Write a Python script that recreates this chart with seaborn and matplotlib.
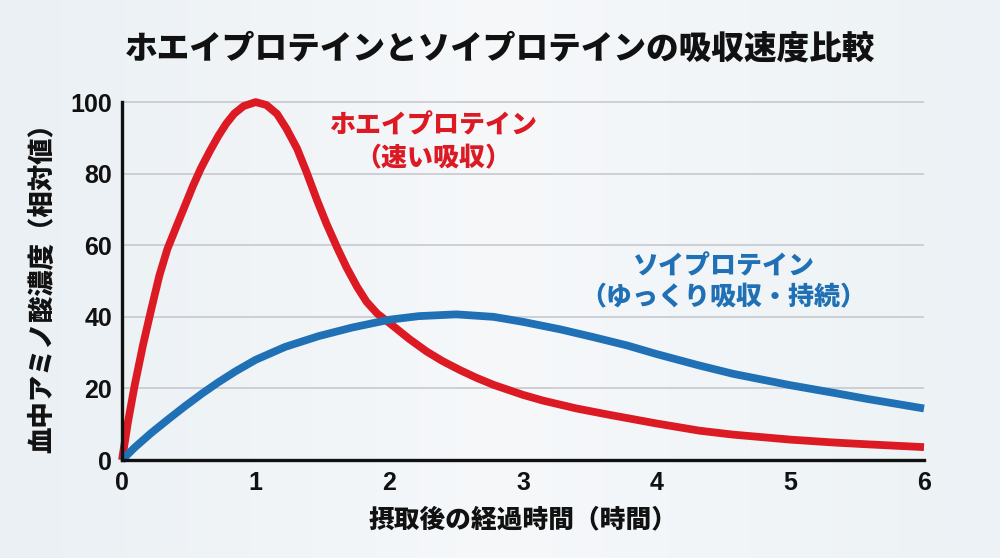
import numpy as np
import pandas as pd
import matplotlib
matplotlib.use("Agg")
import matplotlib.pyplot as plt
from matplotlib.colors import LinearSegmentedColormap
import seaborn as sns

# ---- data ----
whey_t = [0, 0.045, 0.095, 0.157, 0.22, 0.28, 0.34, 0.41, 0.47, 0.53, 0.59, 0.66,
          0.72, 0.78, 0.84, 0.91, 1.0, 1.08, 1.16, 1.23, 1.31, 1.38, 1.46, 1.53,
          1.61, 1.68, 1.76, 1.83, 1.91, 2.0, 2.15, 2.28, 2.4, 2.53, 2.65, 2.78,
          3.0, 3.15, 3.4, 3.65, 4.0, 4.32, 4.57, 5.0, 5.32, 5.57, 6.0]
whey_v = [0, 10.7, 20.9, 32.1, 42.3, 51.6, 59.0, 65.5, 71.0, 76.5, 81.5, 86.5,
          90.5, 94.0, 96.8, 98.9, 100.0, 99.2, 96.7, 92.6, 87.0, 80.5, 72.5, 66.0,
          59.3, 53.8, 48.3, 44.2, 40.9, 38.3, 33.8, 30.3, 27.6, 25.1, 23.0, 21.0,
          18.2, 16.6, 14.4, 12.6, 10.2, 8.2, 7.1, 5.7, 4.9, 4.4, 3.6]
soy_t = [0, 0.095, 0.22, 0.35, 0.47, 0.6, 0.72, 0.85, 1.0, 1.22, 1.47, 1.72, 2.0,
         2.22, 2.5, 2.78, 3.0, 3.28, 3.53, 3.78, 4.0, 4.32, 4.57, 5.0, 5.32, 5.57, 6.0]
soy_v = [0, 3.5, 7.6, 11.5, 15.0, 18.6, 21.7, 24.8, 28.0, 31.6, 34.6, 37.0, 39.2,
         40.2, 40.7, 40.0, 38.6, 36.5, 34.3, 32.0, 29.6, 26.4, 24.1, 20.9, 18.8, 17.1, 14.4]
series_names = ["ホエイプロテイン", "ソイプロテイン"]
label_whey = ["ホエイプロテイン", "（速い吸収）"]
label_soy = ["ソイプロテイン", "（ゆっくり吸収・持続）"]
x_ticks = [0, 1, 2, 3, 4, 5, 6]
y_ticks = [0, 20, 40, 60, 80, 100]
title = "ホエイプロテインとソイプロテインの吸収速度比較"
xlabel = "摂取後の経過時間（時間）"
ylabel = "血中アミノ酸濃度（相対値）"

RED = "#dc1a24"
BLUE = "#1f70b5"
BG = "#eef3f6"
INK = "#111111"

df = pd.concat([
    pd.DataFrame({"t": whey_t, "v": whey_v, "s": series_names[0]}),
    pd.DataFrame({"t": soy_t, "v": soy_v, "s": series_names[1]}),
], ignore_index=True)

sns.set_theme(style="white")
plt.rcParams["font.family"] = ["Noto Sans CJK JP", "DejaVu Sans"]

fig = plt.figure(figsize=(10, 5.58), dpi=100, facecolor=BG)

# soft background
bg = fig.add_axes([0, 0, 1, 1], zorder=-10)
grad = np.linspace(0, 1, 256)
img = np.outer(np.ones(10), grad)
cm = LinearSegmentedColormap.from_list("bg", ["#eaf0f4", "#f6f8fa", "#ecf2f5"])
bg.imshow(img, cmap=cm, aspect="auto", extent=[0, 1, 0, 1])
bg.axis("off")

ax = fig.add_axes([0.122, 0.1756, 0.802, 0.6414])
ax.set_facecolor("none")

for y in y_ticks[1:]:
    ax.axhline(y, color="#c9cdd1", lw=1.3, zorder=0)

sns.lineplot(data=df, x="t", y="v", hue="s", hue_order=series_names,
             palette=[RED, BLUE], lw=5.6, legend=False, ax=ax, sort=True,
             estimator=None)
for ln in ax.lines:
    ln.set_clip_on(False)
    ln.set_solid_capstyle("butt")
    ln.set_solid_joinstyle("round")

ax.set_xlim(0, 6)
ax.set_ylim(0, 100)
ax.set_xticks(x_ticks)
ax.set_yticks(y_ticks)
tick_font = dict(family=["Liberation Sans", "DejaVu Sans"], weight="bold", size=18)
ax.set_xticklabels([str(v) for v in x_ticks], fontdict=tick_font, color=INK)
ax.set_yticklabels([str(v) for v in y_ticks], fontdict=tick_font, color=INK)
ax.tick_params(axis="x", direction="in", length=8, width=1.6, color=INK, pad=8)
ax.tick_params(axis="y", length=0, pad=7)

for s in ["top", "right"]:
    ax.spines[s].set_visible(False)
for s in ["left", "bottom"]:
    ax.spines[s].set_color(INK)
    ax.spines[s].set_linewidth(2.4)

ax.set_xlabel(xlabel, fontsize=18.5, fontweight="heavy", color=INK, labelpad=8)
ax.set_ylabel(ylabel, fontsize=19, fontweight="heavy", color=INK, labelpad=10)

fig.text(0.5, 0.912, title, ha="center", va="center", fontsize=23.5,
         fontweight="heavy", color=INK)

ax.text(2.33, 93.6, label_whey[0], ha="center", va="center", fontsize=18.7,
        fontweight="heavy", color=RED)
ax.text(2.33, 84.4, label_whey[1], ha="center", va="center", fontsize=18.7,
        fontweight="heavy", color=RED)
ax.text(4.5, 54.2, label_soy[0], ha="center", va="center", fontsize=18.7,
        fontweight="heavy", color=BLUE)
ax.text(4.5, 45.5, label_soy[1], ha="center", va="center", fontsize=18.7,
        fontweight="heavy", color=BLUE)

fig.savefig("out.png", dpi=100, facecolor=fig.get_facecolor())
